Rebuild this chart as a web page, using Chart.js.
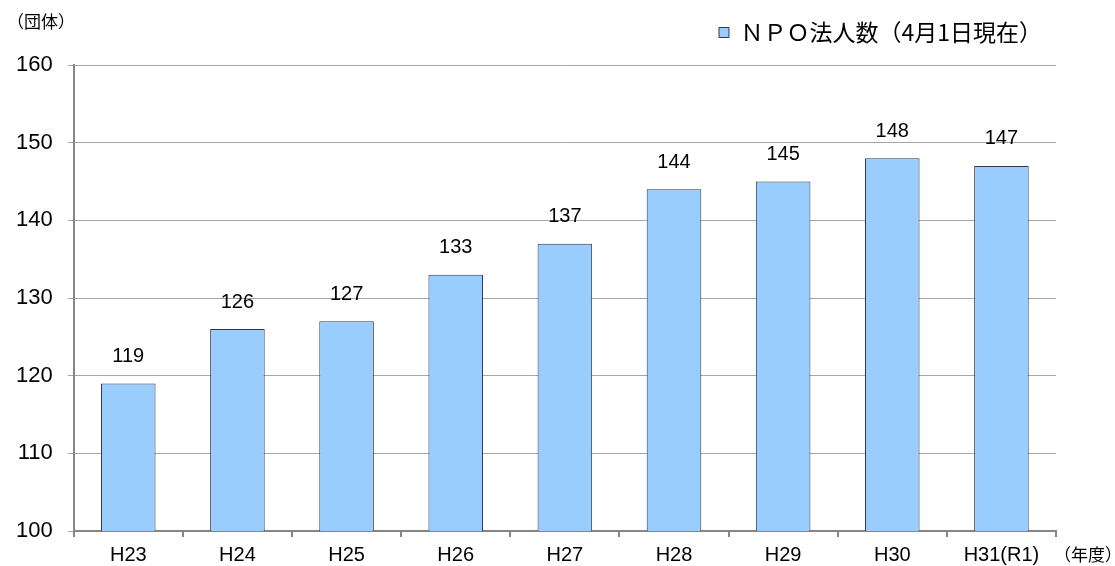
<!DOCTYPE html>
<html>
<head>
<meta charset="utf-8">
<script src="https://cdn.jsdelivr.net/npm/chart.js@4"></script>
<style>
  html, body { margin: 0; padding: 0; background: #fff; }
  #wrap { width: 1115px; height: 566px; }
</style>
</head>
<body>
<div id="wrap"><canvas id="npoChart"></canvas></div>
<script>
const years = ['H23', 'H24', 'H25', 'H26', 'H27', 'H28', 'H29', 'H30', 'H31(R1)'];
const npoCounts = [119, 126, 127, 133, 137, 144, 145, 148, 147];
const seriesName = 'ＮＰＯ法人数（4月1日現在）';
const unitLabel = '（団体）';
const yearLabel = '（年度）';

const sans = '"Liberation Sans", Arial, sans-serif';
const jp = '"Noto Sans CJK JP", sans-serif';

// value above each bar + the two unit captions
const labelsPlugin = {
    id: 'labels',
    beforeInit(chart) {
        const fit = chart.legend.fit;
        chart.legend.fit = function () {
            fit.bind(chart.legend)();
            this.height += 11;
        };
    },
    afterDatasetsDraw(chart) {
        const ctx = chart.ctx;
        const meta = chart.getDatasetMeta(0);
        ctx.save();
        ctx.fillStyle = '#000';
        ctx.textAlign = 'center';
        ctx.textBaseline = 'middle';
        ctx.font = '20px ' + sans;
        meta.data.forEach((bar, i) => {
            ctx.fillText(npoCounts[i], bar.x, bar.y - 27);
        });
        ctx.font = '17px ' + jp;
        ctx.textAlign = 'left';
        ctx.fillText(unitLabel, 7, 22);
        const area = chart.chartArea;
        ctx.fillText(yearLabel, area.right - 2, 555);
        ctx.restore();
    }
};

let npoChart;

document.addEventListener('DOMContentLoaded', function () {
    const ctx = document.getElementById('npoChart');
    npoChart = new Chart(ctx, {
        type: 'bar',
        data: {
            labels: years,
            datasets: [{
                label: seriesName,
                data: npoCounts,
                backgroundColor: '#99ccff',
                borderColor: '#33394a',
                borderWidth: 1,
                barPercentage: 0.5,
                categoryPercentage: 1
            }]
        },
        options: {
            responsive: true,
            maintainAspectRatio: false,
            animation: false,
            layout: {
                padding: { top: 7, left: 1, right: 59, bottom: -7 }
            },
            plugins: {
                legend: {
                    position: 'top',
                    align: 'end',
                    labels: {
                        boxWidth: 10,
                        boxHeight: 10,
                        padding: 14,
                        color: '#000',
                        font: { family: jp, size: 23 }
                    }
                },
                tooltip: { enabled: false }
            },
            scales: {
                y: {
                    min: 100,
                    max: 160,
                    ticks: {
                        stepSize: 10,
                        padding: 15,
                        color: '#000',
                        font: { family: sans, size: 22 }
                    },
                    grid: {
                        color: '#a6a6a6',
                        tickLength: 6
                    },
                    border: { color: '#868686', width: 2 }
                },
                x: {
                    ticks: {
                        padding: 10,
                        color: '#000',
                        font: { family: sans, size: 20, lineHeight: 0.8 }
                    },
                    grid: {
                        offset: true,
                        drawOnChartArea: false,
                        color: '#868686',
                        tickLength: 6,
                        lineWidth: 2
                    },
                    border: { color: '#868686', width: 2 }
                }
            }
        },
        plugins: [labelsPlugin]
    });
});
</script>
</body>
</html>
